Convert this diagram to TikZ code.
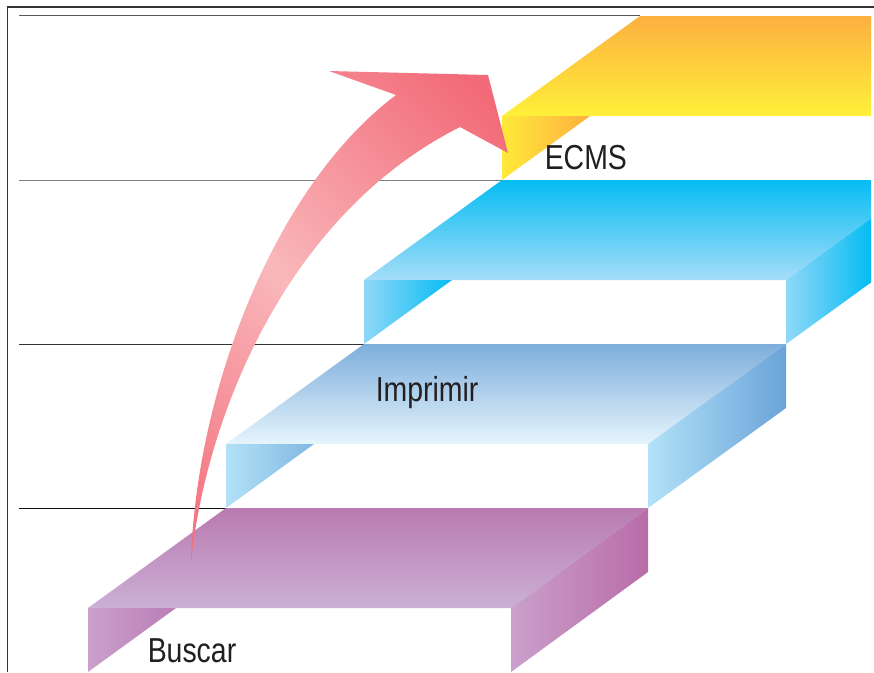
\documentclass[tikz,border=0pt]{standalone}
\usepackage{fontspec}
\newfontfamily\labfont[FakeStretch=0.82]{Liberation Sans}
\definecolor{labelink}{HTML}{231F20}
\definecolor{purA}{HTML}{B97BB0}\definecolor{purB}{HTML}{CBB0D5}
\definecolor{purC}{HTML}{CAA0CB}\definecolor{purD}{HTML}{B96CA8}\definecolor{purE}{HTML}{BA7DB6}
\definecolor{bluA}{HTML}{7DAEDC}\definecolor{bluB}{HTML}{E6F5FC}
\definecolor{bluC}{HTML}{B2E2F8}\definecolor{bluD}{HTML}{6AA3D8}\definecolor{bluE}{HTML}{82B6E0}
\definecolor{cyaA}{HTML}{05BCF3}\definecolor{cyaB}{HTML}{A5DDF8}
\definecolor{cyaC}{HTML}{8FD8F8}\definecolor{cyaD}{HTML}{05BCF3}
\definecolor{yelA}{HTML}{FDB03F}\definecolor{yelB}{HTML}{FFF03A}
\definecolor{yelC}{HTML}{FFE93A}\definecolor{yelD}{HTML}{FDB03F}
\definecolor{arrA}{HTML}{F26A78}\definecolor{arrB}{HTML}{F9B8BB}
\pgfdeclarehorizontalshading{arrowgrad}{100bp}{color(0bp)=(arrA); color(33bp)=(arrA); color(50bp)=(arrB); color(67bp)=(arrA); color(100bp)=(arrA)}
\tikzset{
  rule/.style={line width=0.7pt},
  lab/.style={anchor=base west,inner sep=0pt,text=labelink,font=\labfont\fontsize{26}{28}\selectfont},
  topface/.style 2 args={top color=#1,bottom color=#2,draw=none},
  sideface/.style 2 args={left color=#1,right color=#2,draw=none}
}
\begin{document}
\begin{tikzpicture}[x=0.75pt,y=-0.75pt]
\useasboundingbox (0,0) rectangle (874,672);
\fill[white] (0,0) rectangle (874,672);
% frame
\draw[line width=0.8pt,black!80] (874,7) -- (7.5,7) -- (7.5,672);
% rules
\draw[rule,black!65] (19,15.5) -- (640,15.5);
\draw[rule,black!50] (19,180) -- (502,180);
\draw[rule,black!80] (19,344) -- (364,344);
\draw[rule,black!95] (19,508) -- (226,508);
% yellow step
\shade[topface={yelA}{yelB}] (502,116) -- (640,16) -- (871,16) -- (871,116) -- cycle;
\shade[sideface={yelC}{yelD}] (502,116) -- (590,116) -- (502,180) -- cycle;
% cyan step
\shade[topface={cyaA}{cyaB}] (364,280) -- (502,180) -- (871,180) -- (871,218.5) -- (786,280) -- cycle;
\shade[sideface={cyaC}{cyaD}] (364,280) -- (452,280) -- (364,344) -- cycle;
\shade[sideface={cyaC}{cyaD}] (786,280) -- (871,218.5) -- (871,282.5) -- (786,344) -- cycle;
% blue step
\shade[topface={bluA}{bluB}] (226,444) -- (364,344) -- (786,344) -- (648,444) -- cycle;
\shade[sideface={bluC}{bluE}] (226,444) -- (314,444) -- (226,508) -- cycle;
\shade[sideface={bluC}{bluD}] (648,444) -- (786,344) -- (786,408) -- (648,508) -- cycle;
% purple step
\shade[topface={purA}{purB}] (88,608) -- (226,508) -- (648,508) -- (511,608) -- cycle;
\shade[sideface={purC}{purE}] (88,608) -- (176,608) -- (88,672) -- cycle;
\shade[sideface={purC}{purD}] (511,608) -- (648,508) -- (648,572) -- (511,672) -- cycle;
% arrow
\begin{scope}
\clip (191,563) .. controls (195,400) and (270,190) .. (396,95)
  -- (329,71) -- (488,75) -- (508,153) -- (460,127)
  .. controls (285,215) and (205,420) .. (191,563) -- cycle;
\shade[shading=arrowgrad,shading angle=45] (-125,-130) rectangle (675,670);
\end{scope}
% labels
\node[lab] (ecms) at (544.5,169) {ECMS};
\node[lab] (imprimir) at (375.5,401) {Imprimir};
\node[lab] (buscar) at (147.5,662) {Buscar};
\end{tikzpicture}
\end{document}
